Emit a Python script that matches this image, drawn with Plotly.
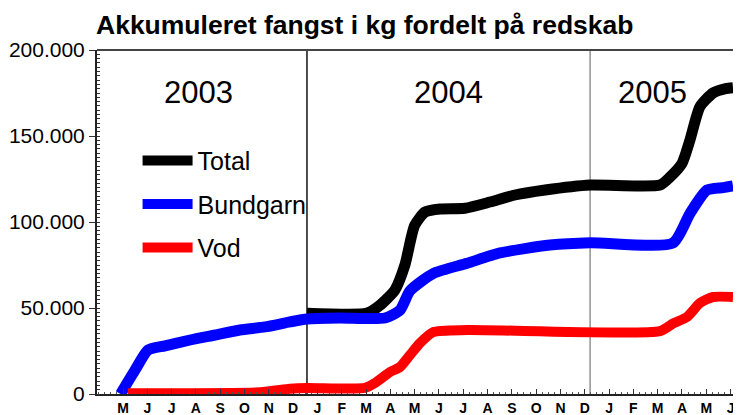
import plotly.graph_objects as go

# month index: 0 = May 2003 ... 25 = Jun 2005
month_labels = ["M", "J", "J", "A", "S", "O", "N", "D",
                "J", "F", "M", "A", "M", "J", "J", "A", "S", "O", "N", "D",
                "J", "F", "M", "A", "M", "J"]
year_labels = ["2003", "2004", "2005"]
year_label_pos = [3.1, 13.4, 21.8]
year_bounds = [7.57, 19.22]

total_x = [7.57, 10.04, 10.58, 11.19, 11.6, 12.0, 12.43, 13.05, 14.07, 15.1, 16.13, 17.37,
           19.22, 22.1, 22.5, 23.0, 23.33, 23.74, 24.28, 24.8, 25.1]
total_y = [47000, 47000, 51700, 60500, 75000, 98000, 105800, 107600, 108000, 111600, 115700,
           118600, 121500, 121500, 126000, 134000, 147700, 167000, 175000, 177500, 178000]

bund_x = [-0.1, 0.5, 1.03, 1.73, 2.76, 3.79, 4.81, 5.84, 6.87, 7.57, 8.93, 10.78, 11.4,
          11.81, 12.76, 14.16, 15.51, 17.57, 19.22, 22.63, 23.33, 24.03, 24.7, 25.1]
bund_y = [0, 14000, 25600, 28000, 31400, 34300, 37200, 39000, 41900, 43600, 44200, 44200,
          48800, 60000, 70000, 76000, 82000, 86600, 88000, 87800, 105000, 118600, 120000, 121000]

vod_x = [0.2, 5.64, 6.87, 7.57, 9.96, 10.37, 10.99, 11.4, 11.81, 12.22, 12.76, 14.16,
         22.1, 22.63, 23.21, 23.74, 24.28, 25.1]
vod_y = [500, 1000, 3000, 3500, 3500, 6400, 12800, 15700, 22700, 29600, 36000, 37200,
         36600, 41000, 44800, 52900, 56400, 56400]

FONT = "Arial, Liberation Sans, sans-serif"

fig = go.Figure()
fig.add_trace(go.Scatter(x=total_x, y=total_y, mode="lines", name="Total",
                         legendgroup="a",
                         line=dict(color="#000000", width=11, shape="spline", smoothing=0.6)))
fig.add_trace(go.Scatter(x=bund_x, y=bund_y, mode="lines", name="Bundgarn",
                         legendgroup="b",
                         line=dict(color="#0000ff", width=11, shape="spline", smoothing=0.6)))
fig.add_trace(go.Scatter(x=vod_x, y=vod_y, mode="lines", name="Vod",
                         legendgroup="c",
                         line=dict(color="#ff0000", width=10, shape="spline", smoothing=0.6)))

shapes = []
for i, xb in enumerate(year_bounds):
    shapes.append(dict(type="line", xref="x", yref="paper", x0=xb, x1=xb, y0=0, y1=1,
                       line=dict(color="#111111" if i == 0 else "#777777", width=1.5 if i == 0 else 1.2),
                       layer="below"))
shapes.append(dict(type="line", xref="paper", yref="paper", x0=0, x1=1, y0=1, y1=1,
                   line=dict(color="#444444", width=2)))

annotations = []
for lbl, xp in zip(year_labels, year_label_pos):
    annotations.append(dict(x=xp, y=175500, xref="x", yref="y", text=lbl, showarrow=False,
                            font=dict(family=FONT, size=31, color="#000000"),
                            xanchor="center", yanchor="middle"))
annotations.append(dict(x=-0.005, y=1.073, xref="paper", yref="paper",
                        text="<b>Akkumuleret fangst i kg fordelt på redskab</b>",
                        showarrow=False, xanchor="left", yanchor="middle",
                        font=dict(family=FONT, size=26.5, color="#000000")))

# page body has an 8px margin, so the figure is sized/offset to compensate
fig.update_layout(
    width=733, height=407,
    margin=dict(l=89, r=0, t=42, b=21, pad=0),
    paper_bgcolor="white", plot_bgcolor="white",
    font=dict(family=FONT, color="#000000"),
    showlegend=True,
    legend=dict(x=0.063, y=0.745, xanchor="left", yanchor="top",
                bgcolor="rgba(0,0,0,0)", font=dict(family=FONT, size=25),
                tracegroupgap=8, itemwidth=50),
    shapes=shapes,
    annotations=annotations,
    xaxis=dict(range=[-1.07, 25.43], tickvals=list(range(len(month_labels))),
               ticktext=month_labels, showgrid=False, zeroline=False, automargin=False,
               showline=True, linecolor="#222222", linewidth=2,
               ticks="inside", ticklen=5, tickcolor="#333333",
               minor=dict(ticks="inside", ticklen=2, dtick=0.25, tickcolor="#555555", showgrid=False),
               tickfont=dict(family=FONT, size=14, weight="bold", color="#000000")),
    yaxis=dict(range=[0, 200000], tickvals=[0, 50000, 100000, 150000, 200000],
               ticktext=["0", "50.000", "100.000", "150.000", "200.000"],
               showgrid=False, zeroline=False, automargin=False,
               showline=True, linecolor="#222222", linewidth=2,
               ticks="outside", ticklen=6, tickcolor="#333333",
               minor=dict(ticks="inside", ticklen=3, dtick=2500, tickcolor="#333333", showgrid=False),
               tickfont=dict(family=FONT, size=21, color="#000000")),
)

fig.write_html("out.html")
